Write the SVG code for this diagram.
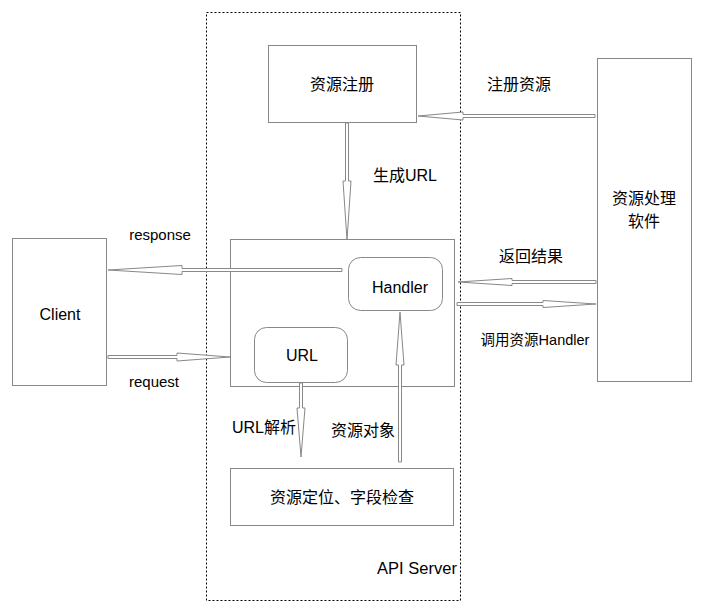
<svg xmlns="http://www.w3.org/2000/svg" width="702" height="604" viewBox="0 0 702 604">
<style>
.box{fill:#fff;stroke:#888;stroke-width:1}
.arr{fill:#fff;stroke:#888;stroke-width:1;stroke-linejoin:miter}
.t{font-family:"Liberation Sans","Noto Sans CJK SC",sans-serif;font-size:16px;fill:#000;text-anchor:middle;dominant-baseline:central}
</style>
<rect width="702" height="604" fill="#fff"/>
<g id="api-server">
<rect x="206.5" y="12.5" width="254" height="588" fill="none" stroke="#000" stroke-width="1" stroke-dasharray="2,2"/>
<text class="t" x="417" y="568" style="font-size:16.5px">API Server</text>
</g>
<g id="register">
<rect class="box" x="268.5" y="45.5" width="148" height="77"/>
<text class="t" x="342" y="84">资源注册</text>
</g>
<g id="main">
<rect class="box" x="230.5" y="239.5" width="224" height="147"/>
</g>
<g id="handler">
<rect class="box" x="348.5" y="257.5" width="94" height="53" rx="12"/>
<text class="t" x="400" y="287">Handler</text>
</g>
<g id="url">
<rect class="box" x="254.5" y="327.5" width="93" height="55" rx="12"/>
<text class="t" x="302" y="355">URL</text>
</g>
<g id="locate">
<rect class="box" x="230.5" y="468.5" width="223" height="57"/>
<text class="t" x="342" y="497">资源定位、字段检查</text>
</g>
<g id="client">
<rect class="box" x="12.5" y="238.5" width="94" height="147"/>
<text class="t" x="60" y="314">Client</text>
</g>
<g id="software">
<rect class="box" x="597.5" y="58.5" width="94" height="323"/>
<text class="t" x="644" y="198">资源处理</text>
<text class="t" x="644" y="221">软件</text>
</g>
<g id="connectors">
<polygon class="arr" points="345.5,123 348.5,123 348.5,181 351,181 347,240 343,181 345.5,181"/>
<polygon class="arr" points="595,114.5 463,114.5 463,112 418,116 463,120 463,117.5 595,117.5"/>
<polygon class="arr" points="342,268.5 182,268.5 182,265.5 108,270 182,274.5 182,271.5 342,271.5"/>
<polygon class="arr" points="108,355.5 177,355.5 177,353 230,357 177,361 177,358.5 108,358.5"/>
<polygon class="arr" points="596,280.5 512,280.5 512,278.5 458,282 512,285.5 512,283.5 596,283.5"/>
<polygon class="arr" points="457,302.5 543,302.5 543,300.5 596,304 543,307.5 543,305.5 457,305.5"/>
<polygon class="arr" points="299.5,383 302.5,383 302.5,408 305,408 301,457 297,408 299.5,408"/>
<polygon class="arr" points="398.5,462 401.5,462 401.5,365 404,365 400,312 396,365 398.5,365"/>
<text class="t" x="405" y="175">生成URL</text>
<text class="t" x="519" y="84">注册资源</text>
<text class="t" x="160" y="234" style="font-size:15px">response</text>
<text class="t" x="154" y="381" style="font-size:15px">request</text>
<text class="t" x="531" y="256">返回结果</text>
<text class="t" x="535" y="340" style="font-size:14.5px">调用资源Handler</text>
<text class="t" x="264" y="427">URL解析</text>
<text class="t" x="363" y="430">资源对象</text>
</g>
</svg>
